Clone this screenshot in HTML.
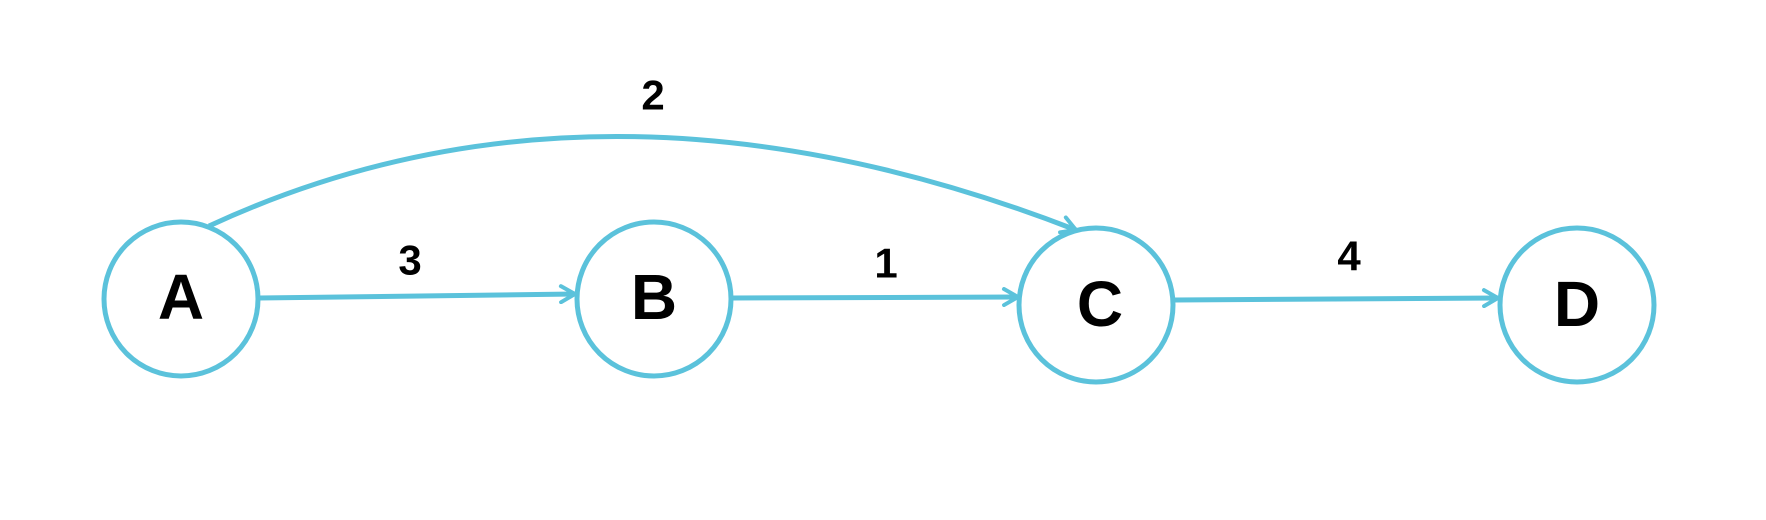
<!DOCTYPE html>
<html><head><style>
html,body{margin:0;padding:0;background:#fff}
svg{display:block}
text{font-family:"Liberation Sans",sans-serif;font-weight:bold;fill:#000;text-anchor:middle;dominant-baseline:central}
</style></head><body>
<svg width="1766" height="520" viewBox="0 0 1766 520">
<defs>
<marker id="ar" viewBox="0 0 20 20" refX="18" refY="10" markerWidth="20" markerHeight="20" markerUnits="userSpaceOnUse" orient="auto">
<path d="M4 2 L18 10 L4 18" fill="none" stroke="#5bc2db" stroke-width="4" stroke-linecap="round"/>
</marker>
</defs>
<g fill="none" stroke="#5bc2db" stroke-width="5">
<circle cx="181" cy="299" r="77"/>
<circle cx="654" cy="299" r="77"/>
<circle cx="1096" cy="305" r="77"/>
<circle cx="1577" cy="305" r="77"/>
<line x1="259" y1="298" x2="575" y2="294" marker-end="url(#ar)"/>
<line x1="732" y1="298" x2="1018" y2="297" marker-end="url(#ar)"/>
<line x1="1175" y1="300" x2="1498" y2="298" marker-end="url(#ar)"/>
<path d="M209 226 Q600 45 1076 230" marker-end="url(#ar)"/>
</g>
<g font-size="64">
<text x="181" y="297">A</text>
<text x="654" y="297">B</text>
<text x="1100" y="304">C</text>
<text x="1577" y="304">D</text>
<text x="653" y="95" font-size="42">2</text>
<text x="410" y="260" font-size="42">3</text>
<text x="886" y="263" font-size="42">1</text>
<text x="1349" y="256" font-size="42">4</text>
</g>
</svg>
</body></html>
